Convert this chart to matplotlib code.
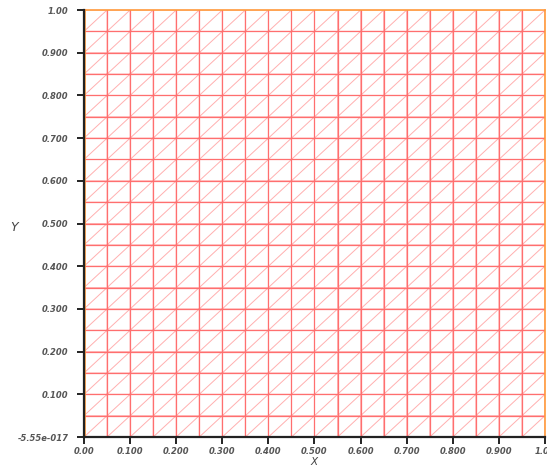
import numpy as np
import matplotlib
matplotlib.use("Agg")
import matplotlib.pyplot as plt
import matplotlib.tri as mtri

# mesh node coordinates along each axis (20 x 20 cells on the unit square)
node_x = [0.00, 0.05, 0.10, 0.15, 0.20, 0.25, 0.30, 0.35, 0.40, 0.45, 0.50,
          0.55, 0.60, 0.65, 0.70, 0.75, 0.80, 0.85, 0.90, 0.95, 1.00]
node_y = [0.00, 0.05, 0.10, 0.15, 0.20, 0.25, 0.30, 0.35, 0.40, 0.45, 0.50,
          0.55, 0.60, 0.65, 0.70, 0.75, 0.80, 0.85, 0.90, 0.95, 1.00]

x_ticks = [0.0, 0.1, 0.2, 0.3, 0.4, 0.5, 0.6, 0.7, 0.8, 0.9, 1.0]
x_tick_labels = ["0.00", "0.100", "0.200", "0.300", "0.400", "0.500",
                 "0.600", "0.700", "0.800", "0.900", "1.00"]
y_ticks = [0.0, 0.1, 0.2, 0.3, 0.4, 0.5, 0.6, 0.7, 0.8, 0.9, 1.0]
y_tick_labels = ["-5.55e-017", "0.100", "0.200", "0.300", "0.400", "0.500",
                 "0.600", "0.700", "0.800", "0.900", "1.00"]

# build the triangulation: each cell split by a "/" diagonal
X, Y = np.meshgrid(node_x, node_y)
px, py = X.ravel(), Y.ravel()
n = len(node_x)
tris = []
for j in range(len(node_y) - 1):
    for i in range(n - 1):
        a = j * n + i
        b = a + 1
        c = a + n
        d = c + 1
        tris.append([a, b, d])
        tris.append([a, d, c])
tri = mtri.Triangulation(px, py, tris)

fig = plt.figure(figsize=(5.47, 4.68), dpi=100)
ax = fig.add_axes([0.1536, 0.0662, 0.8427, 0.9124])

# diagonals (light) then grid edges (stronger)
ax.triplot(tri, color="#ff9c9c", lw=0.7, alpha=0.8)
for v in node_x[1:-1]:
    ax.plot([v, v], [0, 1], color="#ff6f6f", lw=0.9)
for v in node_y[1:-1]:
    ax.plot([0, 1], [v, v], color="#ff6f6f", lw=0.9)

# boundary edges in orange
orange = "#ff9a3c"
ax.plot([0, 1], [1, 1], color=orange, lw=1.2, clip_on=False)
ax.plot([1, 1], [0, 1], color=orange, lw=1.2, clip_on=False)
ax.plot([0.003, 0.003], [0, 1], color=orange, lw=1.2, clip_on=False)

ax.set_xlim(0, 1)
ax.set_ylim(0, 1)
ax.spines["top"].set_visible(False)
ax.spines["right"].set_visible(False)
ax.spines["left"].set_linewidth(1.6)
ax.spines["bottom"].set_linewidth(1.6)
ax.spines["left"].set_color("#222222")
ax.spines["bottom"].set_color("#222222")

ax.set_xticks(x_ticks)
ax.set_xticklabels(x_tick_labels)
ax.set_yticks(y_ticks)
ax.set_yticklabels(y_tick_labels)
ax.tick_params(direction="out", length=5, width=1.4, color="#222222",
               labelsize=6, labelcolor="#555555", pad=6)
ax.tick_params(axis="x", pad=2)
for lab in ax.get_xticklabels() + ax.get_yticklabels():
    lab.set_fontstyle("italic")
    lab.set_fontweight("bold")

ax.set_xlabel("X", fontsize=7.5, fontstyle="italic", color="#444444")
ax.xaxis.set_label_coords(0.5, -0.0575)
ax.xaxis.label.set_va("center")
ax.set_ylabel("Y", fontsize=9, fontstyle="italic", color="#444444", rotation=0)
ax.yaxis.set_label_coords(-0.152, 0.49)
ax.yaxis.label.set_va("center")

fig.savefig("out.png", dpi=100)
